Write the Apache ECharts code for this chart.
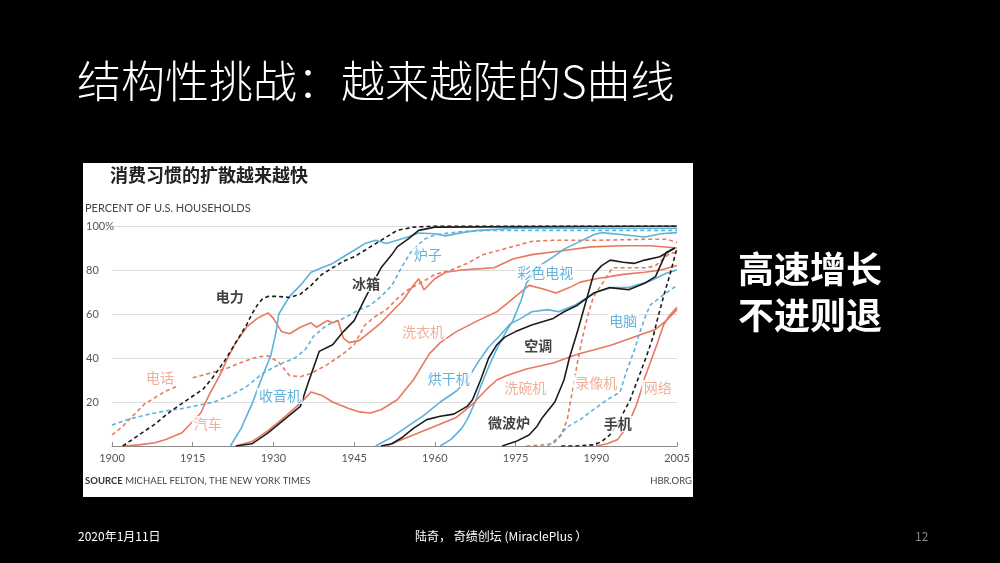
<!DOCTYPE html>
<html><head><meta charset="utf-8">
<script src="https://cdn.jsdelivr.net/npm/echarts@6/dist/echarts.min.js"></script>
<style>html,body{margin:0;padding:0;background:#000}#c{width:1000px;height:563px}</style>
</head><body><div id="c"></div>
<script>
// ---- tick labels ----
const xTickYears = [1900, 1915, 1930, 1945, 1960, 1975, 1990, 2005];
const yTicks = [0, 20, 40, 60, 80, 100];

// ---- series values: [year, percent of US households] ----
const electricity = [[1902,0],[1905,5],[1908,10],[1911,16],[1914,21],[1917,26],[1919,32],[1921,39],[1923,47],[1925,55],[1926,60],[1927,64],[1928,67],[1929,68],[1931,68],[1933,67.5],[1935,69],[1937,73],[1939,78],[1941,81],[1943,84],[1945,86],[1947,89],[1949,92],[1951,95],[1953,98],[1956,99.5],[1960,100],[2005,100]];
const telephone = [[1900,5],[1902,9],[1904,14],[1906,19],[1908,22],[1910,25],[1912,27],[1913.5,'-'],[1915,31],[1918,33],[1921,35],[1924,38],[1927,40.5],[1929,41],[1931,38],[1933,32],[1935,31.5],[1937,33],[1940,37],[1943,42],[1945,46],[1947,55],[1949,59],[1951,62],[1953,67],[1955,71],[1958,75],[1960,78],[1963,80],[1966,83],[1969,87],[1972,89],[1975,91],[1978,93],[1982,93.5],[1990,93.5],[2000,94],[2003,94],[2005,92.5]];
const radio = [[1922,0],[1924,8],[1926,19],[1928,32],[1929.5,41],[1930.5,52],[1931,60],[1933,68],[1935,73],[1937,79],[1939,81],[1941,83],[1943,86],[1945,89],[1947,92],[1949,93.5],[1951,92],[1953,93.5],[1955,95],[1957,96.8],[1960,96.5],[1962,95.5],[1965,97],[1968,98],[1975,99],[1985,99],[2005,99]];
const refrigerator = [[1923,0],[1926,1],[1929,6],[1932,12],[1935,18],[1936.5,29],[1938.5,43],[1941,46],[1943,52],[1945,57],[1947,67],[1948.5,74],[1950,81],[1952,87],[1953,90.5],[1955,94],[1957,98],[1960,99.5],[2005,100]];
const stove = [[1900,9.5],[1903,12],[1906,14],[1910,16],[1913,17],[1916,18.5],[1919,20],[1922,23],[1925,27],[1928,33],[1931,37],[1934,40],[1936,44],[1937.5,50],[1940,55],[1943,58],[1946,62],[1948,64],[1950,68],[1952,73],[1954,82],[1955.5,88],[1958,94],[1960,96],[1965,97.5],[1970,98],[2005,98]];
const automobile = [[1902,0],[1905,0.5],[1908,1.5],[1910,3],[1912,5],[1913,6],[1916.5,15],[1918,23],[1920,32],[1921.5,40],[1923,47],[1925,54],[1927,58],[1929,60.5],[1930,58],[1931.5,52],[1933,51],[1935,54],[1937,56],[1938,54],[1940,57],[1941,56],[1942,57],[1943,49],[1944,47],[1946,48],[1948,52],[1950,56],[1952,61],[1954,66],[1956,73],[1957,76],[1958,71],[1960,76],[1962,79],[1965,80],[1968,80.5],[1971,81],[1974.5,85],[1978,87],[1983,88.5],[1989,90.5],[1995,91],[2000,91],[2005,90]];
const washer = [[1923,0],[1926,2],[1929,7],[1932,13],[1935,19.5],[1937,24.5],[1939,23],[1941,20],[1944,17],[1946,15.5],[1948,15],[1950,16.5],[1953,21],[1956,30],[1959,42],[1961,47],[1964,52],[1968,57],[1971.5,61],[1974,66],[1977.5,73],[1980,71.5],[1982.5,69.5],[1985,72],[1987,74.5],[1990,76],[1995,78],[1999,79],[2002,80],[2005,82]];
const dryer = [[1949,0],[1952,4],[1955,9],[1958,14],[1961,20],[1964,25],[1966,30],[1968,38],[1970,45],[1972,50],[1974,55.5],[1976,58],[1978,61],[1981,62],[1983,61],[1986,64],[1990,70],[1993,72],[1996,72],[2000,75],[2003,78.5],[2005,80]];
const colorTV = [[1961,0],[1963,3],[1965,8],[1966,12],[1967.5,20],[1968.5,27],[1970,36],[1971.5,44],[1973,51],[1974.5,57],[1976,66],[1977,74],[1979.5,82],[1982,86],[1984,89.5],[1987,93],[1989.5,96],[1991,97],[1995,96],[1999,95],[2002,96.5],[2005,97]];
const airCon = [[1950,0],[1952,1],[1954,4],[1956,8],[1958.5,12],[1961,13.5],[1963.5,14.5],[1966,18],[1967,21],[1968.5,30],[1970,40],[1971.5,46],[1973,49.5],[1975,52],[1978,55],[1982,58],[1984,61],[1986.5,64],[1989.5,69.5],[1992.5,72],[1996,71],[1999,74],[2001,77],[2003,88],[2004.6,90]];
const microwave = [[1972.5,0],[1975,2],[1977.5,5],[1979,9],[1980,13],[1982.3,20],[1984,30],[1985,40],[1986.5,52],[1988,65],[1989.5,78],[1991,82],[1992.6,84.5],[1995,83.5],[1997,83],[1999,84.5],[2001.8,86],[2004.6,90]];
const vcr = [[1977,0],[1980,0.5],[1982,1],[1983.5,5],[1984.6,12],[1985.5,24],[1986.5,38],[1987.5,50],[1988.5,60],[1989.5,68],[1991.3,74.5],[1993,81],[1996,81],[1999.4,81],[2001,82],[2003.7,87.7],[2005,88]];
const computer = [[1981,0],[1983,4],[1984.5,8.5],[1987,12],[1990,17.5],[1992,21],[1994.4,24.5],[1995.7,34.5],[1997,43],[1998,51],[1999,58],[2000,64],[2002.4,68.6],[2005,73]];
const cellPhone = [[1983.5,0],[1986,0],[1989.5,0.5],[1991,2],[1992.5,5],[1994,10],[1995,15],[1996.3,21],[1997.2,27],[1998,32],[1999.5,42],[2000.6,50],[2001.3,57],[2002.5,68],[2003.7,78],[2005,90]];
const internet = [[1990,0],[1992,1],[1994,3],[1995.5,8],[1996.5,13],[1997.5,19],[1998.3,25],[1999,31],[2000.5,41],[2001.4,47],[2002.5,55],[2003.5,59],[2005,63]];
const dishwasher = [[1951,0],[1953,2],[1956,5],[1960,9],[1964,13],[1967,19],[1969.7,26],[1971.5,30],[1973.4,32],[1977,35],[1982,37.7],[1985.7,41],[1987,42],[1990,44],[1993,46],[1996,48.6],[1998.7,51],[2001,53],[2003,57],[2005,62]];

// ---- styles ----
const BASE = 1900;
const BLACK = '#1c1c1c', SALMON = '#e8785f', TEAL = '#5cb3d9';
const LBL_BLACK = '#111', LBL_SALMON = '#ee9a80', LBL_TEAL = '#3c9fd2';

const defs = [
  {name:'电话', data:telephone, color:SALMON, dashed:true, lc:LBL_SALMON, at:[1908.9,31]},
  {name:'炉子', data:stove, color:TEAL, dashed:true, lc:LBL_TEAL, at:[1958.7,86.8]},
  {name:'汽车', data:automobile, color:SALMON, dashed:false, lc:LBL_SALMON, at:[1917.8,10]},
  {name:'洗衣机', data:washer, color:SALMON, dashed:false, lc:LBL_SALMON, at:[1957.8,52]},
  {name:'收音机', data:radio, color:TEAL, dashed:false, lc:LBL_TEAL, at:[1931.2,22.7]},
  {name:'烘干机', data:dryer, color:TEAL, dashed:false, lc:LBL_TEAL, at:[1962.6,30.5]},
  {name:'彩色电视', data:colorTV, color:TEAL, dashed:false, lc:LBL_TEAL, at:[1980.5,79]},
  {name:'洗碗机', data:dishwasher, color:SALMON, dashed:false, lc:LBL_SALMON, at:[1976.8,26.4]},
  {name:'录像机', data:vcr, color:SALMON, dashed:true, lc:LBL_SALMON, at:[1990,28.6]},
  {name:'电脑', data:computer, color:TEAL, dashed:true, lc:LBL_TEAL, at:[1995,57]},
  {name:'网络', data:internet, color:SALMON, dashed:false, lc:LBL_SALMON, at:[2001.4,26.4]},
  {name:'电力', data:electricity, color:BLACK, dashed:true, lc:LBL_BLACK, at:[1921.9,68], bold:true},
  {name:'冰箱', data:refrigerator, color:BLACK, dashed:false, lc:LBL_BLACK, at:[1947.2,73.6], bold:true},
  {name:'空调', data:airCon, color:BLACK, dashed:false, lc:LBL_BLACK, at:[1979.2,45.5], bold:true},
  {name:'微波炉', data:microwave, color:BLACK, dashed:false, lc:LBL_BLACK, at:[1973.8,10.5], bold:true},
  {name:'手机', data:cellPhone, color:BLACK, dashed:true, lc:LBL_BLACK, at:[1994,10], bold:true}
];

const shift = pts => pts.map(p => [p[0] - BASE, p[1]]);

const lineSeries = defs.map(d => ({
  type:'line', name:d.name, data:shift(d.data), showSymbol:false, silent:true, z:3,
  connectNulls:false,
  lineStyle:{color:d.color, width:1.6, type:d.dashed ? [4,3] : 'solid'}
}));

const labelSeries = {
  type:'scatter', z:10, silent:true, symbolSize:1,
  itemStyle:{color:'rgba(0,0,0,0)'},
  data: defs.map(d => ({
    value:[d.at[0] - BASE, d.at[1]],
    label:{show:true, position:'inside', formatter:d.name, color:d.lc,
      fontSize:14, fontWeight:d.bold ? 'bold' : 'normal',
      fontFamily:'Noto Sans CJK SC', backgroundColor:'#fff', padding:[1,2]}
  }))
};

const chart = echarts.init(document.getElementById('c'), null, {renderer:'canvas'});
chart.setOption({
  backgroundColor:'#000',
  animation:false,
  grid:{left:112, right:323, top:226, bottom:117},
  xAxis:{type:'value', min:0, max:xTickYears[xTickYears.length-1]-BASE, interval:15,
    axisLine:{lineStyle:{color:'#8a8a8a', width:1.2}},
    axisTick:{show:true, inside:true, length:4, lineStyle:{color:'#8a8a8a'}},
    splitLine:{show:false},
    axisLabel:{margin:7, color:'#555', fontSize:11, fontFamily:'Lato',
      formatter:v => String(v + BASE)}},
  yAxis:{type:'value', min:yTicks[0], max:yTicks[yTicks.length-1], interval:20,
    axisLine:{show:false}, axisTick:{show:false},
    splitLine:{lineStyle:{color:'#dcdcdc', width:1}},
    axisLabel:{align:'left', margin:26, color:'#555', fontSize:11, fontFamily:'Lato',
      formatter:v => v === 0 ? '' : (v === 100 ? '100%' : String(v))}},
  graphic:[
    {type:'rect', z:-10, silent:true, shape:{x:83, y:163, width:610, height:334}, style:{fill:'#fff'}},
    {type:'text', left:77, top:59, z:5, style:{text:'结构性挑战：越来越陡的S曲线', fill:'#fff',
      font:'300 44px "Noto Sans CJK SC"'}},
    {type:'text', left:110, top:166, z:5, style:{text:'消费习惯的扩散越来越快', fill:'#222',
      font:'bold 18px "Noto Sans CJK SC"'}},
    {type:'text', left:85, top:203, z:5, style:{text:'PERCENT OF U.S. HOUSEHOLDS', fill:'#444',
      font:'11px Lato'}},
    {type:'text', left:85, top:476, z:5, style:{
      text:'{b|SOURCE} MICHAEL FELTON, THE NEW YORK TIMES', fill:'#444', font:'9.5px Lato',
      rich:{b:{fontWeight:'bold', fontSize:9.5, fontFamily:'Lato', fill:'#333'}}}},
    {type:'text', right:308, top:476, z:5, style:{text:'HBR.ORG', fill:'#444', font:'9.5px Lato'}},
    {type:'text', left:738, top:251, z:5, style:{text:'高速增长', fill:'#fff', font:'bold 36px "Noto Sans CJK SC"'}},
    {type:'text', left:738, top:297, z:5, style:{text:'不进则退', fill:'#fff', font:'bold 36px "Noto Sans CJK SC"'}},
    {type:'text', left:78, top:530, z:5, style:{text:'2020年1月11日', fill:'#fff', font:'12px "Noto Sans CJK SC"'}},
    {type:'text', left:415, top:530, z:5, style:{text:'陆奇， 奇绩创坛 (MiraclePlus ）', fill:'#fff', font:'12px "Noto Sans CJK SC"'}},
    {type:'text', left:915, top:530, z:5, style:{text:'12', fill:'#888', font:'12px "Noto Sans CJK SC"'}}
  ],
  series: lineSeries.concat([labelSeries])
});
</script></body></html>
